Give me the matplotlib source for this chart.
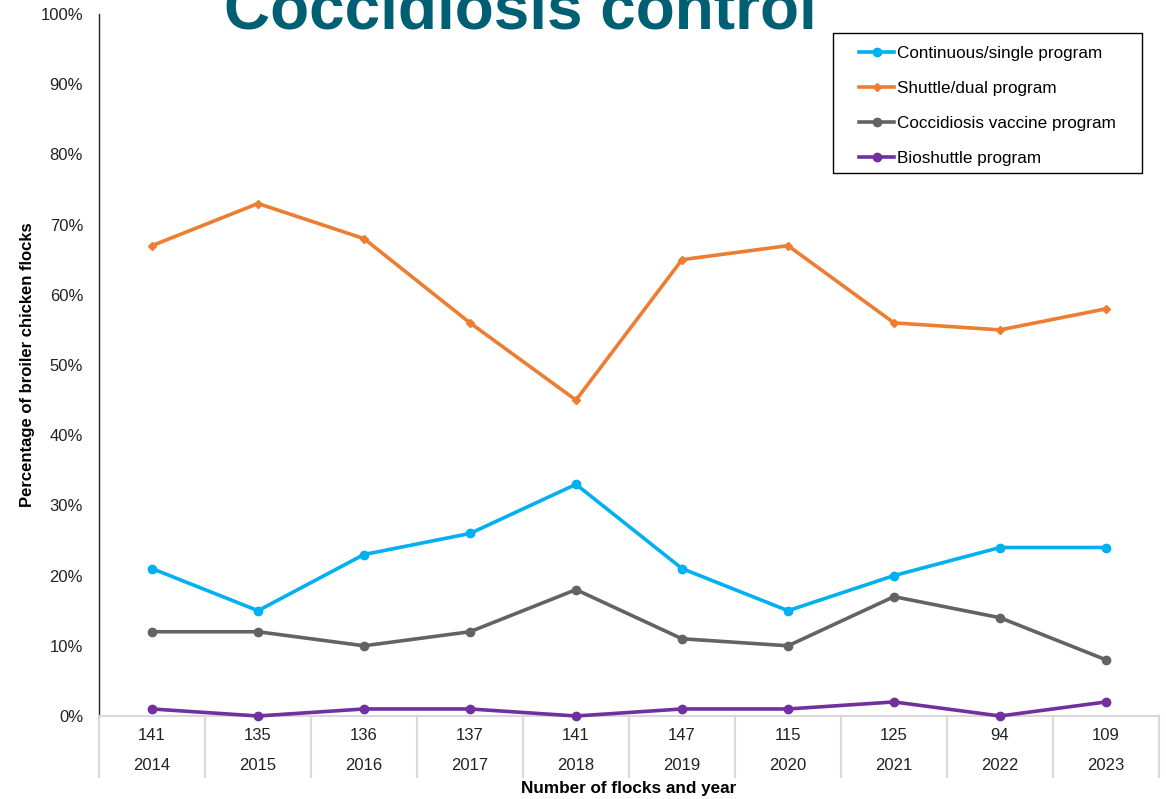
import matplotlib.pyplot as plt
from matplotlib.patches import Rectangle
from matplotlib.transforms import blended_transform_factory
from matplotlib.ticker import PercentFormatter

plt.rcParams['font.family'] = ['Liberation Sans', 'DejaVu Sans']

years  = ['2014', '2015', '2016', '2017', '2018', '2019', '2020', '2021', '2022', '2023']
flocks = ['141', '135', '136', '137', '141', '147', '115', '125', '94', '109']

continuous = [21, 15, 23, 26, 33, 21, 15, 20, 24, 24]
shuttle    = [67, 73, 68, 56, 45, 65, 67, 56, 55, 58]
vaccine    = [12, 12, 10, 12, 18, 11, 10, 17, 14, 8]
bioshuttle = [1, 0, 1, 1, 0, 1, 1, 2, 0, 2]

series = [
    ("Continuous/single program", continuous, "#00B0F0", "o", 6),
    ("Shuttle/dual program", shuttle, "#ED7D31", "D", 3.8),
    ("Coccidiosis vaccine program", vaccine, "#636363", "o", 6),
    ("Bioshuttle program", bioshuttle, "#7030A0", "o", 6),
]

fig = plt.figure(figsize=(11.66, 7.99), dpi=100)
ax = fig.add_axes([0.0849, 0.1039, 0.9091, 0.8786])

x = list(range(len(years)))
for label, vals, color, mk, ms in series:
    ax.plot(x, vals, color=color, lw=2.6, marker=mk, markersize=ms,
            markerfacecolor=color, markeredgecolor=color, label=label,
            solid_joinstyle='round', clip_on=False, zorder=3)

ax.set_xlim(-0.5, len(years) - 0.5)
ax.set_ylim(0, 100)
ax.set_yticks(range(0, 101, 10))
ax.yaxis.set_major_formatter(PercentFormatter(decimals=0))
ax.tick_params(axis='y', length=0, labelsize=12, pad=11.5, colors='#222222')
ax.set_xticks([])

for side in ['top', 'right']:
    ax.spines[side].set_visible(False)
ax.spines['left'].set_color('#222222')
ax.spines['left'].set_linewidth(1.0)
ax.spines['bottom'].set_color('#D9D9D9')
ax.spines['bottom'].set_linewidth(1.5)

# two-level category axis: flock counts over years, with separators
trans = blended_transform_factory(ax.transData, ax.transAxes)
for i in range(len(years) + 1):
    ax.plot([i - 0.5, i - 0.5], [0, -0.087], transform=trans, color='#D9D9D9',
            lw=1.5, clip_on=False)
for i, (n, yr) in enumerate(zip(flocks, years)):
    ax.text(i, -0.0285, n, transform=trans, ha='center', va='center',
            fontsize=12, color='#222222')
    ax.text(i, -0.071, yr, transform=trans, ha='center', va='center',
            fontsize=12, color='#222222')

ax.text(0.5, -0.104, "Number of flocks and year", transform=ax.transAxes,
        ha='center', va='center', fontsize=12.3, fontweight='bold')
fig.text(0.0235, 0.5434, "Percentage of broiler chicken flocks", rotation=90,
         ha='center', va='center', fontsize=12, fontweight='bold')

fig.text(0.446, 0.9645, "Coccidiosis control", ha='center', va='baseline',
         fontsize=46, fontweight='bold', color='#005F73')

# legend entries without frame, boxed by a separate rectangle
ax.legend(loc='upper left', bbox_to_anchor=(0.717, 0.955), borderaxespad=0,
          borderpad=0, fontsize=12.3, frameon=False,
          handlelength=2.05, handletextpad=0.18, labelspacing=1.17)
ax.add_patch(Rectangle((0.6925, 0.7735), 0.2915, 0.1994, transform=ax.transAxes,
                       fill=False, edgecolor='black', lw=1.0, clip_on=False,
                       zorder=4))

fig.savefig("out.png", dpi=100)
